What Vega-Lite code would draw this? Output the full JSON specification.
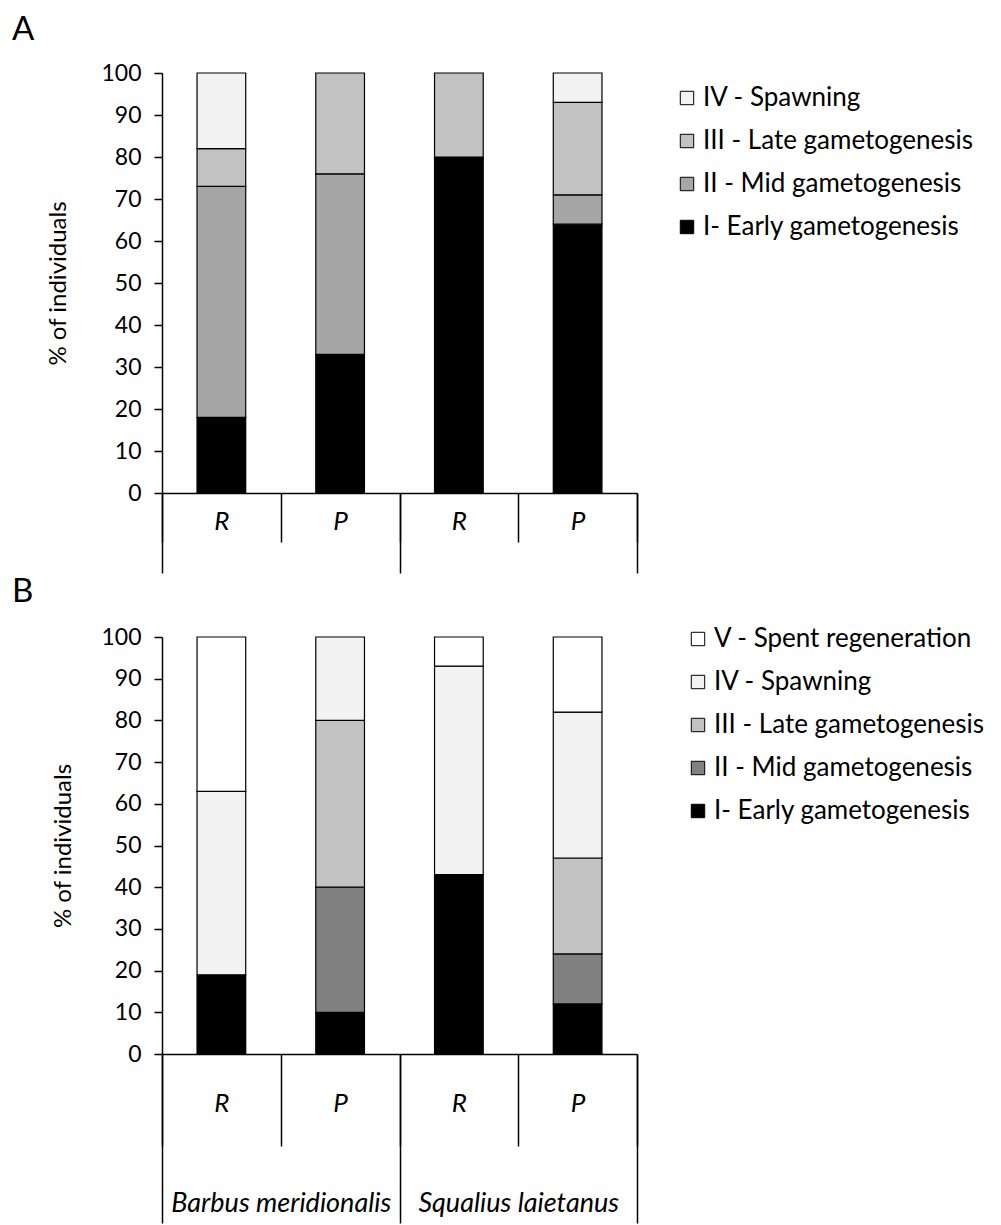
{
  "$schema": "https://vega.github.io/schema/vega-lite/v6.json",
  "padding": {"left": 12, "top": 14, "right": 5, "bottom": 0},
  "background": "white",
  "spacing": 2,
  "resolve": {"scale": {"color": "independent"}, "legend": {"color": "independent"}},
  "config": {
    "font": "Lato",
    "view": {"stroke": null},
    "axis": {"labelFont": "Lato", "titleFont": "Lato", "labelColor": "black", "titleColor": "black", "domainColor": "black", "tickColor": "black", "labelFontSize": 23, "titleFontSize": 24, "titleFontWeight": "normal", "grid": false, "domainWidth": 1.5, "tickWidth": 1.5},
    "legend": {"title": null, "orient": "none", "symbolType": "square", "symbolSize": 180, "symbolStrokeColor": "black", "symbolStrokeWidth": 1, "labelFontSize": 26, "labelFont": "Lato", "labelColor": "black", "rowPadding": 17, "labelOffset": 3, "labelLimit": 400}
  },
  "vconcat": [
    {
      "title": {"text": "A", "anchor": "start", "frame": "group", "dx": -150, "offset": -11, "baseline": "alphabetic", "fontSize": 33, "fontWeight": "normal", "font": "Lato", "color": "black"},
      "width": 475,
      "height": 420,
      "data": {"values": [
        {"species": "Barbus meridionalis", "site": "R", "bar": "Barbus meridionalis|R", "stage": "I- Early gametogenesis", "s": 1, "pct": 18},
        {"species": "Barbus meridionalis", "site": "R", "bar": "Barbus meridionalis|R", "stage": "II - Mid gametogenesis", "s": 2, "pct": 55},
        {"species": "Barbus meridionalis", "site": "R", "bar": "Barbus meridionalis|R", "stage": "III - Late gametogenesis", "s": 3, "pct": 9},
        {"species": "Barbus meridionalis", "site": "R", "bar": "Barbus meridionalis|R", "stage": "IV - Spawning", "s": 4, "pct": 18},
        {"species": "Barbus meridionalis", "site": "P", "bar": "Barbus meridionalis|P", "stage": "I- Early gametogenesis", "s": 1, "pct": 33},
        {"species": "Barbus meridionalis", "site": "P", "bar": "Barbus meridionalis|P", "stage": "II - Mid gametogenesis", "s": 2, "pct": 43},
        {"species": "Barbus meridionalis", "site": "P", "bar": "Barbus meridionalis|P", "stage": "III - Late gametogenesis", "s": 3, "pct": 24},
        {"species": "Squalius laietanus", "site": "R", "bar": "Squalius laietanus|R", "stage": "I- Early gametogenesis", "s": 1, "pct": 80},
        {"species": "Squalius laietanus", "site": "R", "bar": "Squalius laietanus|R", "stage": "III - Late gametogenesis", "s": 3, "pct": 20},
        {"species": "Squalius laietanus", "site": "P", "bar": "Squalius laietanus|P", "stage": "I- Early gametogenesis", "s": 1, "pct": 64},
        {"species": "Squalius laietanus", "site": "P", "bar": "Squalius laietanus|P", "stage": "II - Mid gametogenesis", "s": 2, "pct": 7},
        {"species": "Squalius laietanus", "site": "P", "bar": "Squalius laietanus|P", "stage": "III - Late gametogenesis", "s": 3, "pct": 22},
        {"species": "Squalius laietanus", "site": "P", "bar": "Squalius laietanus|P", "stage": "IV - Spawning", "s": 4, "pct": 7}
      ]},
      "layer": [
        {
          "mark": {"type": "bar", "width": {"band": 0.41}, "stroke": "black", "strokeWidth": 1.2},
          "encoding": {
            "x": {"field": "bar", "type": "nominal", "sort": ["Barbus meridionalis|R", "Barbus meridionalis|P", "Squalius laietanus|R", "Squalius laietanus|P"], "scale": {"paddingInner": 0, "paddingOuter": 0},
                  "axis": {"title": null, "orient": "bottom", "tickBand": "extent", "tickSize": 49, "labelPadding": -34, "labelFontSize": 26, "labelExpr": "split(datum.label,'|')[1]", "labelFontStyle": "italic", "labelAngle": 0}},
            "y": {"field": "pct", "type": "quantitative", "stack": "zero", "scale": {"domain": [0, 100]},
                  "axis": {"values": [0, 10, 20, 30, 40, 50, 60, 70, 80, 90, 100], "title": "% of individuals", "tickSize": 8, "labelPadding": 13, "titlePadding": 30}},
            "color": {"field": "stage", "type": "nominal",
                      "scale": {"domain": ["IV - Spawning", "III - Late gametogenesis", "II - Mid gametogenesis", "I- Early gametogenesis"], "range": ["#f2f2f2", "#c2c2c2", "#a6a6a6", "#000000"]},
                      "legend": {"legendX": 512, "legendY": 12}},
            "order": {"field": "s", "type": "quantitative", "sort": "ascending"}
          }
        },
        {
          "mark": {"type": "bar", "opacity": 0},
          "encoding": {
            "x": {"field": "species", "type": "nominal", "sort": ["Barbus meridionalis", "Squalius laietanus"], "scale": {"type": "band", "paddingInner": 0, "paddingOuter": 0},
                  "axis": {"title": null, "orient": "bottom", "tickBand": "extent", "tickSize": 80, "labels": false, "domain": false}}
          }
        }
      ],
      "resolve": {"scale": {"x": "independent"}, "axis": {"x": "independent"}}
    },
    {
      "title": {"text": "B", "anchor": "start", "frame": "group", "dx": -150, "offset": -9, "baseline": "alphabetic", "fontSize": 33, "fontWeight": "normal", "font": "Lato", "color": "black"},
      "width": 475,
      "height": 417,
      "data": {"values": [
        {"species": "Barbus meridionalis", "site": "R", "bar": "Barbus meridionalis|R", "stage": "I- Early gametogenesis", "s": 1, "pct": 19},
        {"species": "Barbus meridionalis", "site": "R", "bar": "Barbus meridionalis|R", "stage": "IV - Spawning", "s": 4, "pct": 44},
        {"species": "Barbus meridionalis", "site": "R", "bar": "Barbus meridionalis|R", "stage": "V - Spent regeneration", "s": 5, "pct": 37},
        {"species": "Barbus meridionalis", "site": "P", "bar": "Barbus meridionalis|P", "stage": "I- Early gametogenesis", "s": 1, "pct": 10},
        {"species": "Barbus meridionalis", "site": "P", "bar": "Barbus meridionalis|P", "stage": "II - Mid gametogenesis", "s": 2, "pct": 30},
        {"species": "Barbus meridionalis", "site": "P", "bar": "Barbus meridionalis|P", "stage": "III - Late gametogenesis", "s": 3, "pct": 40},
        {"species": "Barbus meridionalis", "site": "P", "bar": "Barbus meridionalis|P", "stage": "IV - Spawning", "s": 4, "pct": 20},
        {"species": "Squalius laietanus", "site": "R", "bar": "Squalius laietanus|R", "stage": "I- Early gametogenesis", "s": 1, "pct": 43},
        {"species": "Squalius laietanus", "site": "R", "bar": "Squalius laietanus|R", "stage": "IV - Spawning", "s": 4, "pct": 50},
        {"species": "Squalius laietanus", "site": "R", "bar": "Squalius laietanus|R", "stage": "V - Spent regeneration", "s": 5, "pct": 7},
        {"species": "Squalius laietanus", "site": "P", "bar": "Squalius laietanus|P", "stage": "I- Early gametogenesis", "s": 1, "pct": 12},
        {"species": "Squalius laietanus", "site": "P", "bar": "Squalius laietanus|P", "stage": "II - Mid gametogenesis", "s": 2, "pct": 12},
        {"species": "Squalius laietanus", "site": "P", "bar": "Squalius laietanus|P", "stage": "III - Late gametogenesis", "s": 3, "pct": 23},
        {"species": "Squalius laietanus", "site": "P", "bar": "Squalius laietanus|P", "stage": "IV - Spawning", "s": 4, "pct": 35},
        {"species": "Squalius laietanus", "site": "P", "bar": "Squalius laietanus|P", "stage": "V - Spent regeneration", "s": 5, "pct": 18}
      ]},
      "layer": [
        {
          "mark": {"type": "bar", "width": {"band": 0.41}, "stroke": "black", "strokeWidth": 1.2},
          "encoding": {
            "x": {"field": "bar", "type": "nominal", "sort": ["Barbus meridionalis|R", "Barbus meridionalis|P", "Squalius laietanus|R", "Squalius laietanus|P"], "scale": {"paddingInner": 0, "paddingOuter": 0},
                  "axis": {"title": null, "orient": "bottom", "tickBand": "extent", "tickSize": 92, "labelPadding": -56, "labelFontSize": 26, "labelExpr": "split(datum.label,'|')[1]", "labelFontStyle": "italic", "labelAngle": 0}},
            "y": {"field": "pct", "type": "quantitative", "stack": "zero", "scale": {"domain": [0, 100]},
                  "axis": {"values": [0, 10, 20, 30, 40, 50, 60, 70, 80, 90, 100], "title": "% of individuals", "tickSize": 8, "labelPadding": 13, "titlePadding": 25}},
            "color": {"field": "stage", "type": "nominal",
                      "scale": {"domain": ["V - Spent regeneration", "IV - Spawning", "III - Late gametogenesis", "II - Mid gametogenesis", "I- Early gametogenesis"], "range": ["#ffffff", "#f2f2f2", "#c2c2c2", "#808080", "#000000"]},
                      "legend": {"legendX": 523, "legendY": -11}},
            "order": {"field": "s", "type": "quantitative", "sort": "ascending"}
          }
        },
        {
          "mark": {"type": "bar", "opacity": 0},
          "encoding": {
            "x": {"field": "species", "type": "nominal", "sort": ["Barbus meridionalis", "Squalius laietanus"], "scale": {"type": "band", "paddingInner": 0, "paddingOuter": 0},
                  "axis": {"title": null, "orient": "bottom", "tickBand": "extent", "tickSize": 169, "labelPadding": -33, "labelFontSize": 27, "labelFontStyle": "italic", "labelAngle": 0, "labelLimit": 300, "domain": false}}
          }
        }
      ],
      "resolve": {"scale": {"x": "independent"}, "axis": {"x": "independent"}}
    }
  ]
}
